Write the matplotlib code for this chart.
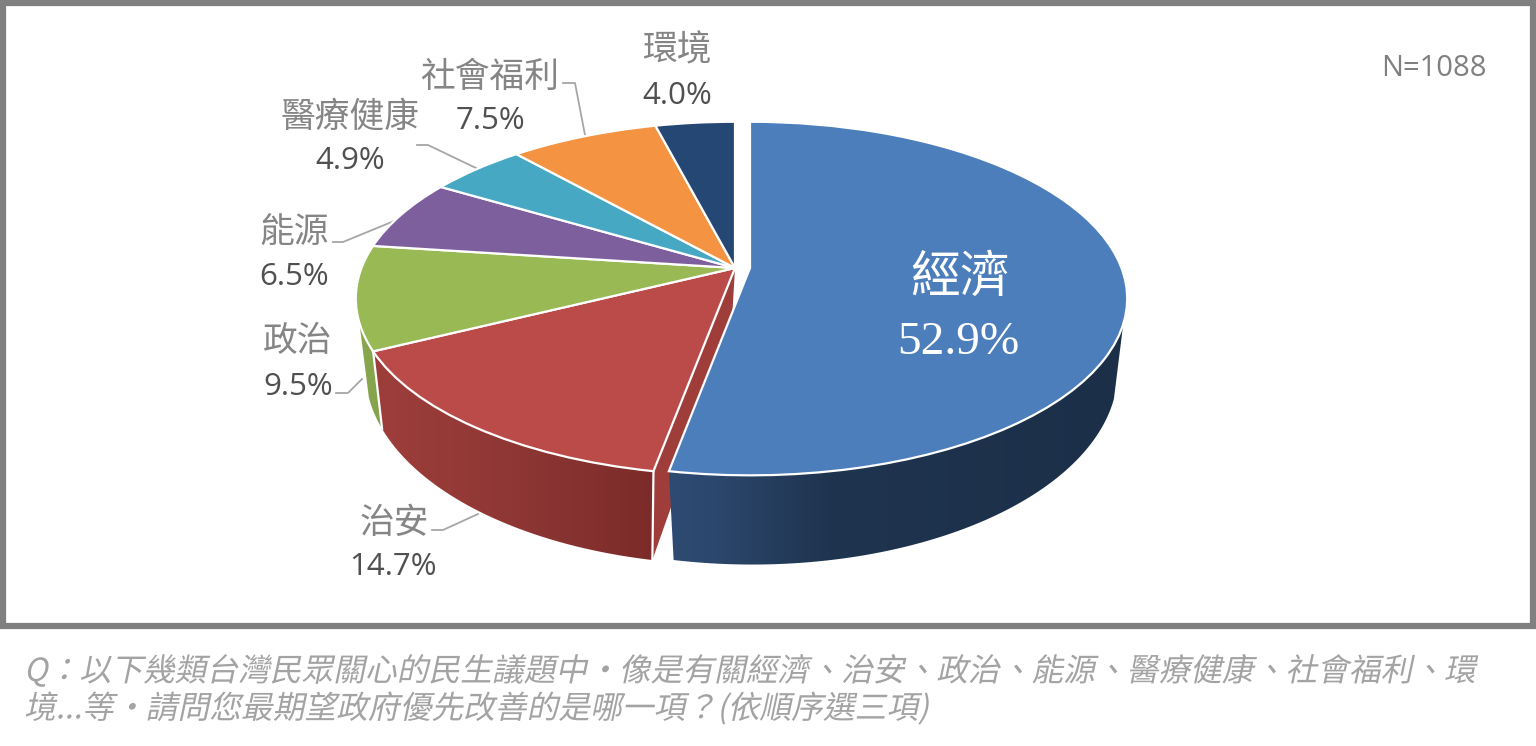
import numpy as np
import matplotlib
matplotlib.use("Agg")
import matplotlib.pyplot as plt
from matplotlib.colors import LinearSegmentedColormap
from matplotlib.patches import Rectangle, Polygon
from matplotlib.patheffects import AbstractPathEffect
from matplotlib.transforms import Transform, Affine2D

# ---------- data ----------
categories = ["經濟", "治安", "政治", "能源", "醫療健康", "社會福利", "環境"]
shares = [52.9, 14.7, 9.5, 6.5, 4.9, 7.5, 4.0]
top_colors = ["#4c7ebb", "#bb4b48", "#98b954", "#7d5f9e", "#47a8c4", "#f49342", "#254773"]
sample_note = "N=1088"
caption = ("Q：以下幾類台灣民眾關心的民生議題中‧像是有關經濟、治安、政治、能源、醫療健康、社會福利、環\n"
           "境...等‧請問您最期望政府優先改善的是哪一項？(依順序選三項)")

CJK = ["Noto Sans CJK TC", "DejaVu Sans"]

# ---------- projection of the unit pie into pixel space ----------
APEX_Y = 268.0
APEX_X = 735.0
APEX_X_EXPLODED = 750.0
RX_REST, RX_EXPLODED, RY, PERSP = 373.5, 371.5, 171.5, 0.1728
WALL_D0, WALL_D1 = 69.6, 0.0946


def project(xy, apex_x, rx):
    xy = np.asarray(xy, float)
    den = 1 + PERSP * xy[..., 1]
    return np.stack([apex_x + rx * xy[..., 0] / den,
                     APEX_Y - RY * xy[..., 1] / den], axis=-1)


class Perspective(Transform):
    input_dims = 2
    output_dims = 2
    is_separable = False
    has_inverse = False

    def __init__(self, apex_x, rx):
        super().__init__()
        self.apex_x = apex_x
        self.rx = rx

    def transform_non_affine(self, values):
        return project(values, self.apex_x, self.rx)


class Slant(AbstractPathEffect):
    """Draw real text with an italic shear (the CJK fonts have no italic)."""

    def __init__(self, degrees=12):
        super().__init__()
        self.degrees = degrees

    def draw_path(self, renderer, gc, tpath, affine, rgbFace=None):
        renderer.draw_path(gc, tpath, Affine2D().skew_deg(self.degrees, 0) + affine, rgbFace)


def rim(theta_deg, apex_x, rx):
    t = np.radians(theta_deg)
    return project(np.stack([np.sin(t), np.cos(t)], axis=-1), apex_x, rx)


def lower(pts, anchor, k):
    pts = np.asarray(pts, float)
    return np.stack([anchor + k * (pts[..., 0] - anchor),
                     pts[..., 1] + WALL_D0 + WALL_D1 * (pts[..., 1] - APEX_Y)], axis=-1)


fig = plt.figure(figsize=(15.36, 7.46), dpi=100)
ax = fig.add_axes([0, 0, 1, 1])

wedges, _ = ax.pie(shares, startangle=90, counterclock=False, colors=top_colors,
                   wedgeprops=dict(edgecolor="white", linewidth=1.6, zorder=5))
for i, w in enumerate(wedges):
    if i == 0:
        w.set_transform(Perspective(APEX_X_EXPLODED, RX_EXPLODED) + ax.transData)
    else:
        w.set_transform(Perspective(APEX_X, RX_REST) + ax.transData)

boundaries = np.concatenate([[0], np.cumsum(shares)]) / np.sum(shares) * 360


def wall(start, stop, apex_x, rx, anchor, k, cmap, z):
    th = np.linspace(start, stop, int((stop - start) * 3) + 2)
    top = rim(th, apex_x, rx)
    bot = lower(top, anchor, k)
    outline = np.vstack([top, bot[::-1]])
    poly = Polygon(outline, closed=True, facecolor="none", edgecolor="none", transform=ax.transData)
    ax.add_patch(poly)
    im = ax.imshow(np.linspace(0, 1, 256)[None, :], cmap=cmap, aspect="auto", zorder=z,
                   extent=(outline[:, 0].min(), outline[:, 0].max(),
                           outline[:, 1].max(), outline[:, 1].min()),
                   interpolation="bilinear")
    im.set_clip_path(poly)
    return top, bot


blue_map = LinearSegmentedColormap.from_list("b", [(0, "#2e4b73"), (0.10, "#2c476c"),
                                                   (0.35, "#1f344f"), (1, "#1c2f49")])
red_map = LinearSegmentedColormap.from_list("r", ["#9e3e3b", "#8e3735", "#7b2b29"])
green_map = LinearSegmentedColormap.from_list("g", ["#8aa84e", "#84a24b"])

RED_ANCHOR, RED_K = 623.0, 0.964
BLUE_ANCHOR, BLUE_K = 822.0, 0.969

# Walls, back to front.
wall(boundaries[2], 252.4, APEX_X, RX_REST, RED_ANCHOR, RED_K, green_map, 1)
rtop, rbot = wall(boundaries[1], boundaries[2], APEX_X, RX_REST, RED_ANCHOR, RED_K, red_map, 2)

# Cut face of the red slice, partly hidden by the exploded blue one.
apex = np.array([APEX_X, APEX_Y])
ax.add_patch(Polygon([apex, rtop[0], rbot[0], lower(apex, RED_ANCHOR, RED_K)],
                     closed=True, facecolor="#9e3d3a", edgecolor="none", zorder=2.5))
ax.plot([rtop[0, 0], rbot[0, 0]], [rtop[0, 1], rbot[0, 1]], color="white", lw=1.6, zorder=2.6)
ax.plot([rtop[-1, 0], rbot[-1, 0]], [rtop[-1, 1], rbot[-1, 1]], color="white", lw=1.6, zorder=2.6)

wall(108, boundaries[1], APEX_X_EXPLODED, RX_EXPLODED, BLUE_ANCHOR, BLUE_K, blue_map, 3)

# ---------- leader lines ----------
leaders = [
    ([432, 443, 478], [530, 530, 514]),
    ([336, 348, 362], [393, 393, 379]),
    ([333, 343, 399], [242, 242, 219]),
    ([417, 428, 478], [145, 145, 169]),
    ([563, 575, 585], [83, 83, 135]),
]
for xs, ys in leaders:
    ax.plot(xs, ys, color="#a6a6a6", lw=1.3, zorder=4, solid_joinstyle="round")

# ---------- labels ----------
label_name_pos = [(960, 278), (394, 523), (298, 342), (294, 233), (350, 117), (490, 77), (677, 51)]
label_value_pos = [(958, 343), (393, 567), (298, 387), (294, 277), (350, 161), (490, 121), (677, 96)]
for i, (name, share) in enumerate(zip(categories, shares)):
    if i == 0:
        ax.text(*label_name_pos[i], name, family=CJK, fontsize=36, color="white",
                ha="center", va="center", zorder=8)
        ax.text(*label_value_pos[i], f"{share}%", family="Liberation Serif", fontsize=34,
                color="white", ha="center", va="center", zorder=8)
    else:
        ax.text(*label_name_pos[i], name, family=CJK, fontsize=25, color="#858585",
                ha="center", va="center", zorder=8)
        ax.text(*label_value_pos[i], f"{share}%", family="Open Sans", fontsize=22.5,
                color="#505050", ha="center", va="center", zorder=8)

ax.text(1487, 68, sample_note, family="Open Sans", fontsize=21, color="#808080",
        ha="right", va="center")

# ---------- frame and caption ----------
ax.add_patch(Rectangle((3, 3), 1530, 623, facecolor="none", edgecolor="#808080", linewidth=4.5, zorder=9))
ax.text(24, 690, caption, family=CJK, fontsize=22.85, color="#a3a3a3", ha="left", va="center",
        linespacing=1.15, path_effects=[Slant(12)])

ax.set_aspect("auto")
ax.set_xlim(0, 1536)
ax.set_ylim(746, 0)
ax.axis("off")

fig.savefig("out.png", dpi=100)
